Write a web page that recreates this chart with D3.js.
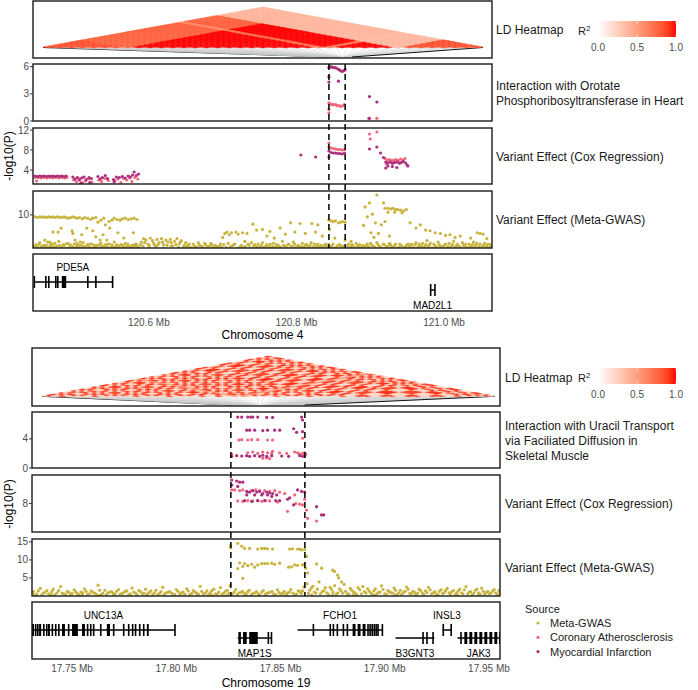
<!DOCTYPE html>
<html>
<head>
<meta charset="utf-8">
<script src="https://cdn.jsdelivr.net/npm/d3@7"></script>
<style>
  body { margin: 0; background: #fff; }
  svg { font-family: "Liberation Sans", Arial, sans-serif; }
</style>
</head>
<body>
<div id="chart"></div>
<script>
// ---------------- data : chromosome 4 ----------------
var ticks4 = [120.6, 120.8, 121.0];
var yTicks4 = { int: [0, 3, 6], cox: [4, 8, 12], gwas: [10] };
var dashed4 = [120.844, 120.866];
var strip4 = ["Interaction with Orotate", "Phosphoribosyltransferase in Heart"];

var int4MI = [[120.844,5.9],[120.846,6.0],[120.848,5.95],[120.850,5.9],[120.852,5.9],[120.854,5.85],[120.857,5.7],[120.859,5.6],[120.861,5.5],[120.863,5.5],[120.865,5.6],[120.866,5.7],[120.844,4.9],[120.844,4.3],[120.857,4.4],[120.899,2.7],[120.909,2.1],[120.899,0.3]];
var int4CA = [[120.844,2.0],[120.846,1.9],[120.848,1.8],[120.850,1.8],[120.853,1.8],[120.855,1.7],[120.858,1.7],[120.860,1.6],[120.863,1.7],[120.865,1.8],[120.844,1.3],[120.844,0.9],[120.898,0.3],[120.909,0.3]];

var cox4MI = [[120.446,2.8],[120.449,2.7],[120.452,2.8],[120.455,2.75],[120.458,2.8],[120.461,2.7],[120.464,2.8],[120.467,2.75],[120.470,2.8],[120.473,2.7],[120.476,2.8],[120.479,2.75],[120.482,2.8],[120.485,2.7],[120.488,2.8],[120.497,2.6],[120.500,2.2],[120.503,2.5],[120.506,2.0],[120.509,2.4],[120.512,2.6],[120.515,2.1],[120.519,2.5],[120.522,2.3],[120.531,2.7],[120.534,2.2],[120.537,2.5],[120.541,2.9],[120.544,2.3],[120.552,2.1],[120.556,2.6],[120.560,2.5],[120.564,2.7],[120.568,2.4],[120.572,2.8],[120.575,2.6],[120.578,3.0],[120.580,3.6],[120.583,2.9],[120.586,3.2],[120.553,1.6],[120.520,1.5],[120.508,1.4],
  [120.806,7.0],[120.826,6.6],[120.844,7.8],[120.847,7.5],[120.850,7.4],[120.853,7.4],[120.856,7.3],[120.859,7.3],[120.862,7.2],[120.865,7.4],[120.844,6.6],
  [120.899,8.2],[120.909,8.6],[120.914,7.4],[120.918,6.5],[120.921,5.6],[120.924,5.4],[120.927,5.6],[120.930,5.3],[120.933,5.5],[120.936,5.6],[120.939,5.4],[120.942,5.5],[120.945,5.7],[120.948,5.4],[120.921,4.4],[120.924,4.8],[120.930,4.7],[120.936,4.5],[120.951,4.8],[120.950,5.0]];
var cox4CA = [[120.446,2.5],[120.448,1.8],[120.450,2.5],[120.454,2.4],[120.458,2.5],[120.462,2.4],[120.466,2.5],[120.470,2.4],[120.474,2.5],[120.478,2.4],[120.482,2.5],[120.486,2.4],[120.489,2.5],[120.498,2.0],[120.502,1.7],[120.505,2.3],[120.510,1.5],[120.514,1.8],[120.518,2.2],[120.523,1.6],[120.532,2.0],[120.536,1.7],[120.540,2.3],[120.545,1.9],[120.554,1.9],[120.558,2.2],[120.562,1.5],[120.566,2.3],[120.570,2.0],[120.574,2.4],[120.577,1.7],[120.581,2.5],[120.585,2.2],
  [120.844,9.4],[120.844,8.6],[120.847,8.4],[120.850,8.3],[120.853,8.2],[120.856,8.1],[120.859,8.1],[120.862,8.0],[120.865,8.1],
  [120.899,11.2],[120.909,11.6],[120.900,10.2],[120.920,6.3],[120.923,6.0],[120.926,6.1],[120.929,5.9],[120.932,6.0],[120.935,6.1],[120.938,5.9],[120.941,6.2],[120.944,6.0],[120.947,6.3],[120.922,5.2],[120.930,5.5],[120.940,5.3]];

var gwas4 = [
  // upper band on the left
  [120.446,9.7],[120.449,9.6],[120.452,9.7],[120.455,9.65],[120.458,9.7],[120.461,9.6],[120.464,9.7],[120.467,9.65],[120.470,9.7],[120.473,9.6],[120.476,9.7],[120.479,9.65],[120.482,9.6],[120.485,9.7],[120.488,9.6],[120.491,9.5],[120.494,9.6],[120.497,9.7],[120.500,9.6],[120.503,9.5],[120.506,9.6],[120.510,9.4],[120.513,9.6],[120.517,9.5],[120.521,9.3],[120.524,9.5],[120.528,9.6],[120.531,8.9],[120.535,9.2],[120.539,9.5],[120.541,8.5],[120.546,9.0],[120.550,9.2],[120.553,9.5],[120.557,9.3],[120.561,9.2],[120.564,9.4],[120.568,9.5],[120.572,9.3],[120.576,9.4],[120.580,9.5],[120.584,9.3],
  [120.470,7.4],[120.477,7.4],[120.481,8.0],[120.496,7.6],[120.497,7.2],[120.509,7.0],[120.516,8.0],[120.524,7.6],[120.528,6.7],[120.538,7.0],[120.543,6.2],[120.547,8.0],[120.558,7.3],[120.566,6.5],[120.579,7.3],[120.459,6.2],[120.466,5.9],[120.500,6.2],[120.534,6.2],[120.507,5.9],
  // bottom band
  [120.444,5.2],[120.447,5.5],[120.450,5.1],[120.452,5.8],[120.455,5.3],[120.458,5.0],[120.461,5.4],[120.463,5.9],[120.466,5.2],[120.469,5.6],[120.472,5.1],[120.475,5.3],[120.478,6.0],[120.481,5.2],[120.484,5.5],[120.487,5.0],[120.490,5.7],[120.493,5.3],[120.496,5.1],[120.499,5.6],[120.502,5.2],[120.505,5.4],[120.508,5.0],[120.511,5.8],[120.514,5.3],[120.517,5.5],[120.520,5.1],[120.523,5.6],[120.526,5.2],[120.529,5.4],[120.532,5.0],[120.535,5.7],[120.538,5.3],[120.541,5.5],[120.544,5.1],[120.547,5.6],[120.550,5.2],[120.553,5.9],[120.556,5.3],[120.559,5.1],[120.562,5.5],[120.565,5.2],[120.568,5.7],[120.571,5.3],[120.574,5.0],[120.577,5.4],[120.580,5.2],[120.583,5.6],[120.586,5.1],
  [120.590,5.9],[120.593,6.4],[120.596,6.2],[120.599,5.6],[120.602,6.5],[120.605,6.1],[120.608,5.4],[120.611,6.3],[120.614,5.8],[120.617,6.4],[120.620,5.5],[120.623,6.2],[120.626,5.9],[120.629,6.3],[120.632,5.3],[120.635,6.0],[120.638,6.4],[120.641,5.6],[120.644,6.1],[120.647,5.2],[120.650,5.8],[120.592,5.3],[120.600,5.1],[120.610,5.2],[120.620,5.0],[120.630,5.3],[120.640,5.1],
  [120.653,5.4],[120.656,5.1],[120.660,5.6],[120.663,5.2],[120.667,5.8],[120.670,5.3],[120.674,5.0],[120.677,5.5],[120.680,5.2],[120.684,5.7],[120.687,5.1],[120.690,5.4],[120.694,5.0],[120.697,5.6],
  [120.700,6.6],[120.703,7.2],[120.706,7.4],[120.709,7.0],[120.712,7.3],[120.715,5.5],[120.718,7.4],[120.721,7.1],[120.724,5.2],[120.727,7.3],[120.730,6.0],[120.733,7.2],[120.736,5.4],[120.739,5.8],[120.705,5.1],[120.713,5.3],[120.722,5.0],[120.731,5.2],
  [120.742,5.3],[120.745,5.0],[120.748,5.6],[120.751,5.2],[120.754,5.8],[120.757,5.1],[120.760,5.5],[120.763,5.3],[120.766,5.0],[120.769,5.7],[120.772,5.2],[120.775,5.4],[120.778,5.1],[120.781,6.0],[120.784,5.3],[120.787,5.0],[120.790,5.6],[120.793,5.2],[120.796,5.9],[120.799,5.1],[120.802,5.4],[120.805,5.0],[120.808,5.7],[120.811,5.3],[120.814,5.5],[120.817,5.1],[120.820,5.8],[120.823,5.2],[120.826,5.0],[120.829,5.6],[120.832,5.3],[120.835,5.1],[120.838,5.4],[120.841,5.2],
  [120.741,8.6],[120.746,7.7],[120.754,7.8],[120.760,6.8],[120.764,7.5],[120.770,6.5],[120.778,8.0],[120.785,7.1],[120.792,8.8],[120.798,7.4],[120.805,8.7],[120.812,7.2],[120.821,8.7],[120.829,8.5],[120.835,6.8],[120.826,7.4],
  [120.844,9.2],[120.847,9.1],[120.850,9.0],[120.853,9.1],[120.857,8.8],[120.860,8.9],[120.863,9.0],[120.866,8.9],[120.845,7.8],[120.852,6.5],[120.844,5.1],[120.848,5.3],[120.852,5.0],[120.856,5.4],[120.860,5.2],[120.864,5.0],[120.866,6.2],
  [120.869,5.3],[120.872,5.0],[120.875,5.5],[120.878,5.1],[120.881,5.7],[120.884,5.2],[120.887,5.0],[120.890,5.4],[120.874,6.0],
  [120.893,11.2],[120.891,8.4],[120.896,9.7],[120.899,11.8],[120.901,7.3],[120.903,10.1],[120.905,6.6],[120.907,8.8],[120.909,13.0],[120.911,7.2],[120.915,8.5],[120.918,11.8],[120.920,11.0],[120.924,11.0],[120.928,10.9],[120.931,11.0],[120.934,10.8],[120.937,10.8],[120.941,10.7],[120.945,10.6],[120.949,10.8],[120.924,10.4],[120.933,10.4],[120.943,10.3],[120.920,9.0],[120.926,6.8],
  [120.893,5.2],[120.896,5.6],[120.899,5.0],[120.902,5.4],[120.906,5.1],[120.909,5.8],[120.912,5.3],[120.916,5.0],[120.919,5.5],[120.922,5.2],[120.926,5.7],[120.929,5.1],[120.933,5.4],[120.936,5.0],[120.940,5.6],[120.943,5.3],[120.947,5.1],[120.950,5.5],
  [120.954,8.8],[120.962,8.0],[120.968,8.5],[120.975,7.7],[120.981,7.6],[120.988,7.3],[120.995,7.2],[121.002,6.9],[121.008,7.0],[121.015,6.6],[121.022,6.8],[121.036,6.5],[121.045,7.3],[121.049,7.2],[121.053,7.1],[121.058,6.4],
  [120.953,5.2],[120.956,5.6],[120.959,5.0],[120.962,5.8],[120.965,5.3],[120.968,5.1],[120.971,5.7],[120.974,5.2],[120.977,6.1],[120.980,5.4],[120.983,5.0],[120.986,5.6],[120.989,5.2],[120.992,5.9],[120.995,5.3],[120.998,5.1],[121.001,5.5],[121.004,5.0],[121.007,5.7],[121.010,5.3],[121.013,6.0],[121.016,5.2],[121.019,5.4],[121.022,5.0],[121.025,5.8],[121.028,5.3],[121.031,5.1],[121.034,5.6],[121.037,5.2],[121.040,5.9],[121.043,5.4],[121.046,5.0],[121.049,5.6],[121.052,5.2],[121.055,5.7],[121.058,5.3],[121.061,5.0],[121.063,5.5],
  // second layer of the dense band
  [120.4455,5.0],[120.4485,5.3],[120.4515,5.6],[120.4545,5.1],[120.4575,5.4],[120.4605,5.2],[120.4635,5.0],[120.4665,5.5],[120.4695,5.2],[120.4725,5.7],[120.4755,5.0],[120.4785,5.4],[120.4815,5.1],[120.4845,5.3],[120.4875,5.6],[120.4905,5.0],[120.4935,5.5],[120.4965,5.2],[120.4995,5.0],[120.5025,5.7],[120.5055,5.1],[120.5085,5.4],[120.5115,5.2],[120.5145,5.0],[120.5175,5.3],[120.5205,5.6],[120.5235,5.0],[120.5265,5.4],[120.5295,5.1],[120.5325,5.5],[120.5355,5.2],[120.5385,5.0],[120.5415,5.3],[120.5445,5.6],[120.5475,5.0],[120.5505,5.4],[120.5535,5.1],[120.5565,5.5],[120.5595,5.3],[120.5625,5.0],[120.5655,5.4],[120.5685,5.1],[120.5715,5.6],[120.5745,5.2],[120.5775,5.0],[120.5805,5.5],[120.5835,5.3],[120.5865,5.0],
  [120.5885,5.5],[120.5945,5.8],[120.6005,5.4],[120.6065,5.7],[120.6125,5.5],[120.6185,5.9],[120.6245,5.4],[120.6305,5.8],[120.6365,5.5],[120.6425,5.9],[120.6485,5.4],
  [120.6515,5.1],[120.6545,5.6],[120.6585,5.0],[120.6615,5.3],[120.6655,5.1],[120.6685,5.5],[120.6725,5.2],[120.6755,5.7],[120.6785,5.0],[120.6825,5.3],[120.6855,5.5],[120.6885,5.0],[120.6925,5.2],[120.6955,5.3],[120.6985,5.1],
  [120.7015,5.5],[120.7075,5.7],[120.7105,5.2],[120.7165,5.6],[120.7195,5.0],[120.7255,5.4],[120.7285,5.1],[120.7345,5.6],[120.7375,5.0],
  [120.7435,5.5],[120.7465,5.2],[120.7495,5.0],[120.7525,5.4],[120.7555,5.1],[120.7585,5.3],[120.7615,5.0],[120.7645,5.6],[120.7675,5.2],[120.7705,5.0],[120.7735,5.5],[120.7765,5.3],[120.7795,5.0],[120.7825,5.4],[120.7855,5.2],[120.7885,5.5],[120.7915,5.0],[120.7945,5.3],[120.7975,5.6],[120.8005,5.1],[120.8035,5.3],[120.8065,5.2],[120.8095,5.0],[120.8125,5.5],[120.8155,5.2],[120.8185,5.4],[120.8215,5.0],[120.8245,5.6],[120.8275,5.3],[120.8305,5.1],[120.8335,5.4],[120.8365,5.0],[120.8395,5.6],
  [120.8435,5.5],[120.8465,5.1],[120.8495,5.6],[120.8545,5.2],[120.8585,5.5],[120.8625,5.3],[120.8655,5.0],[120.8705,5.6],[120.8735,5.2],[120.8765,5.4],[120.8795,5.0],[120.8825,5.3],[120.8855,5.5],[120.8885,5.1],[120.8915,5.0],
  [120.8945,5.4],[120.8975,5.2],[120.9005,5.7],[120.9045,5.3],[120.9075,5.0],[120.9105,5.5],[120.9135,5.2],[120.9175,5.6],[120.9205,5.0],[120.9245,5.3],[120.9275,5.5],[120.9315,5.2],[120.9345,5.6],[120.9385,5.1],[120.9415,5.4],[120.9455,5.0],[120.9485,5.3],[120.9515,5.6],
  [120.9545,5.4],[120.9575,5.1],[120.9605,5.5],[120.9635,5.0],[120.9665,5.6],[120.9695,5.3],[120.9725,5.0],[120.9755,5.5],[120.9785,5.2],[120.9815,5.7],[120.9845,5.0],[120.9875,5.4],[120.9905,5.1],[120.9935,5.5],[120.9965,5.0],[120.9995,5.3],[121.0025,5.6],[121.0055,5.2],[121.0085,5.0],[121.0115,5.5],[121.0145,5.1],[121.0175,5.6],[121.0205,5.3],[121.0235,5.0],[121.0265,5.4],[121.0295,5.6],[121.0325,5.0],[121.0355,5.3],[121.0385,5.5],[121.0415,5.1],[121.0445,5.7],[121.0475,5.2],[121.0505,5.0],[121.0535,5.4],[121.0565,5.1],[121.0595,5.6],[121.0625,5.2],[121.0645,5.0]
];

var genes4 = [
  { name: "PDE5A", start: 120.4435, end: 120.5505, row: 0,
    exons: [[120.4437,120.4450],[120.4593,120.4600],[120.4633,120.4640],[120.4728,120.4735],[120.4755,120.4762],[120.4820,120.4880],[120.5162,120.5169],[120.5271,120.5278],[120.5498,120.5505]] },
  { name: "MAD2L1", start: 120.9808, end: 120.9880, row: 1,
    exons: [[120.9808,120.9822],[120.9866,120.9880]] }
];

var ld4Groups = "AAAAAAAABBBBBBBBBBBBBBBBBCBBBBBBDDDDDDDD".split("");
var ld4R2 = [["A","A",0.85],["A","B",0.78],["A","C",0.6],["A","D",0.4],["B","B",1.0],["B","C",0.68],["B","D",0.38],["C","C",1.0],["C","D",0.35],["D","D",0.85]];
var ld4Pos = [120.8452,120.8458,120.8463,120.8470,120.8476,120.8481,120.8489,120.8494,120.8502,120.8508,120.8515,120.8521,120.8526,120.8534,120.8540,120.8547,120.8553,120.8560,120.8566,120.8571,120.8579,120.8585,120.8592,120.8598,120.8604,120.8611,120.8617,120.8624,120.8630,120.8637,120.8643,120.8650,120.8658,120.8666,120.8675,120.8687,120.8702,120.8718,120.8735,120.8752];

// ---------------- data : chromosome 19 ----------------
var ticks19 = [17.75, 17.80, 17.85, 17.90, 17.95];
var yTicks19 = { int: [0, 4], cox: [8], gwas: [5, 10, 15] };
var dashed19 = [17.8262, 17.8617];
var strip19 = ["Interaction with Uracil Transport", "via Faciliated Diffusion in", "Skeletal Muscle"];

var int19MI = [[17.8295,7.0],[17.8314,7.0],[17.8343,7.0],[17.8357,7.0],[17.8367,7.0],[17.8391,7.0],[17.8434,6.95],[17.8462,6.95],[17.8601,7.0],[17.8606,6.6],
  [17.8338,5.2],[17.8352,5.2],[17.8376,5.2],[17.8415,5.15],[17.8438,5.2],[17.8472,5.2],[17.8496,5.2],[17.8563,5.4],[17.8577,4.9],[17.8606,5.0],
  [17.8266,1.6],[17.8290,1.7],[17.8314,1.65],[17.8338,1.7],[17.8352,1.6],[17.8376,1.7],[17.8400,1.6],[17.8415,1.75],[17.8434,1.6],[17.8458,1.7],[17.8506,1.65],[17.8539,1.6],[17.8592,1.7],[17.8606,1.6],[17.8616,1.65]];
var int19CA = [[17.8300,3.85],[17.8314,3.9],[17.8343,3.85],[17.8362,3.9],[17.8391,3.9],[17.8438,3.85],[17.8462,3.85],[17.8606,4.1],
  [17.8343,2.1],[17.8367,2.2],[17.8391,2.0],[17.8415,2.2],[17.8438,2.1],[17.8458,2.0],[17.8462,2.3],[17.8496,2.1],[17.8530,2.0],[17.8568,2.2],[17.8582,2.1],[17.8592,1.9],[17.8606,2.0],[17.8616,2.1],[17.8621,1.9],
  [17.8415,1.35],[17.8434,1.4],[17.8448,1.3],[17.8266,1.9]];

var cox19MI = [[17.8266,9.65],[17.8266,9.3],[17.8290,9.58],[17.8304,9.5],[17.8319,9.5],[17.8295,9.2],[17.8338,8.85],[17.8352,8.8],[17.8367,8.9],[17.8386,8.8],[17.8400,8.85],[17.8415,8.7],[17.8434,8.8],[17.8448,8.75],[17.8462,8.7],[17.8482,8.6],[17.8338,8.6],[17.8376,8.6],[17.8410,8.6],[17.8438,8.6],[17.8458,8.5],[17.8328,8.2],[17.8362,8.15],[17.8391,8.2],[17.8424,8.2],[17.8496,8.2],[17.8534,8.3],[17.8582,8.95],[17.8601,8.85],[17.8616,8.8],[17.8544,8.4],[17.8563,7.9],[17.8673,7.78],[17.8697,7.2],[17.8707,7.2],[17.8477,8.2]];
var cox19CA = [[17.8266,8.95],[17.8280,8.95],[17.8304,8.9],[17.8319,8.95],[17.8343,8.8],[17.8362,8.9],[17.8381,8.95],[17.8400,8.9],[17.8424,8.9],[17.8448,8.85],[17.8472,8.9],[17.8496,8.8],[17.8520,8.7],[17.8295,8.18],[17.8319,8.15],[17.8343,8.2],[17.8367,8.18],[17.8391,8.2],[17.8410,8.15],[17.8429,8.2],[17.8448,8.18],[17.8486,8.1],[17.8573,8.0],[17.8592,7.95],[17.8606,7.9],[17.8534,7.45],[17.8625,7.54],[17.8630,6.96],[17.8673,6.77],[17.8568,8.6],[17.8616,8.3]];

var gwas19 = [
  [17.8261,14.0],[17.8261,13.4],[17.8295,14.6],[17.8314,13.8],[17.8328,13.2],[17.8352,13.2],[17.8391,13.0],[17.8410,13.2],[17.8424,13.2],[17.8438,13.1],[17.8462,13.0],[17.8544,13.0],[17.8558,13.1],[17.8582,13.0],[17.8592,13.0],[17.8601,12.8],[17.8616,12.9],[17.8625,11.0],
  [17.8304,9.2],[17.8328,9.0],[17.8343,8.4],[17.8362,8.8],[17.8376,8.0],[17.8391,8.6],[17.8410,9.0],[17.8424,9.0],[17.8438,9.0],[17.8458,9.1],[17.8472,8.8],[17.8496,9.1],[17.8539,8.0],[17.8553,8.1],[17.8568,8.6],[17.8582,8.5],[17.8606,8.6],[17.8616,8.8],[17.8621,7.7],[17.8319,8.2],[17.8295,7.6],[17.8319,4.9],[17.8630,6.4],[17.8673,8.9],[17.8697,7.7],[17.8750,7.2],[17.8774,5.8],[17.8779,5.0],[17.8793,3.9],[17.8759,6.8],
  [17.7315,1.2],[17.7330,0.5],[17.7348,2.1],[17.7362,0.8],[17.7380,1.5],[17.7395,0.4],[17.7410,1.9],[17.7428,0.9],[17.7445,2.6],[17.7460,0.6],[17.7478,1.3],[17.7492,0.3],[17.7510,1.7],[17.7525,0.7],[17.7543,1.1],[17.7560,2.0],[17.7575,0.5],[17.7592,1.4],[17.7608,0.8],[17.7625,3.0],[17.7640,0.4],[17.7658,1.6],[17.7673,0.9],[17.7690,1.2],[17.7706,0.5],[17.7723,1.8],[17.7740,0.7],[17.7755,1.3],[17.7772,0.4],[17.7788,2.2],[17.7805,0.8],[17.7820,1.5],[17.7838,0.6],[17.7853,1.9],[17.7870,1.0],[17.7887,0.4],[17.7903,1.6],[17.7920,0.7],[17.7935,2.4],[17.7952,0.9],[17.7968,1.3],[17.7985,0.5],[17.8000,1.8],[17.8017,0.6],[17.8033,1.1],[17.8050,2.0],[17.8065,0.4],[17.8082,1.5],[17.8098,0.8],[17.8115,2.7],[17.8130,0.6],[17.8147,1.4],[17.8163,0.9],[17.8180,1.9],[17.8196,0.5],[17.8212,2.3],[17.8228,0.8],[17.8245,1.6],[17.8258,2.9],
  [17.8270,0.6],[17.8285,1.8],[17.8300,0.9],[17.8318,1.3],[17.8335,0.5],[17.8350,1.6],[17.8368,0.7],[17.8385,1.2],[17.8400,0.4],[17.8418,1.5],[17.8435,0.8],[17.8450,1.1],[17.8468,0.5],[17.8485,1.7],[17.8500,0.6],[17.8518,1.3],[17.8535,0.9],[17.8550,1.8],[17.8568,0.4],[17.8585,1.4],[17.8600,0.7],[17.8612,2.5],
  [17.8628,3.4],[17.8640,1.6],[17.8655,2.7],[17.8670,0.8],[17.8685,3.9],[17.8700,1.2],[17.8715,2.3],[17.8730,0.5],[17.8745,1.8],[17.8760,2.9],[17.8775,0.9],[17.8790,1.5],[17.8805,3.2],[17.8820,0.6],[17.8835,2.1],[17.8850,1.1],[17.8865,0.4],[17.8880,1.7],[17.8895,2.6],[17.8910,0.8],[17.8925,1.4],[17.8940,0.5],[17.8955,2.0],[17.8970,1.0],[17.8985,2.8],[17.9000,0.6],[17.9015,1.5],[17.9030,0.9],[17.9045,2.2],[17.9060,0.4],[17.9075,1.6],[17.9090,1.0],[17.9105,2.5],[17.9120,0.7],[17.9135,1.3],[17.9150,0.5],[17.9165,1.9],[17.9180,0.8],[17.9195,1.4],[17.9210,2.4],[17.9225,0.6],[17.9240,1.2],[17.9255,0.4],[17.9270,1.7],[17.9285,0.9],[17.9300,2.1],[17.9315,0.5],[17.9330,1.5],[17.9345,0.8],[17.9360,1.9],[17.9375,0.6],[17.9390,2.6],[17.9405,1.1],[17.9420,0.4],[17.9435,1.6],[17.9450,0.9],[17.9465,2.2],[17.9480,0.5],[17.9495,1.3],[17.9510,0.8],[17.9525,1.8],[17.9540,0.4],[17.9550,1.2],
  [17.7322,0.2],[17.7400,0.3],[17.7470,0.2],[17.7550,0.3],[17.7630,0.2],[17.7700,0.3],[17.7780,0.2],[17.7860,0.3],[17.7940,0.2],[17.8020,0.3],[17.8100,0.2],[17.8170,0.3],[17.8240,0.2],[17.8330,0.2],[17.8430,0.3],[17.8530,0.2],[17.8650,0.3],[17.8750,0.2],[17.8850,0.3],[17.8950,0.2],[17.9050,0.3],[17.9150,0.2],[17.9250,0.3],[17.9350,0.2],[17.9450,0.3],[17.9545,0.2],
  // second layer of the dense band
  [17.7312,0.7],[17.7338,1.4],[17.7355,0.3],[17.7370,1.0],[17.7388,0.6],[17.7403,1.2],[17.7418,0.4],[17.7436,1.5],[17.7452,0.8],[17.7468,0.5],[17.7485,1.0],[17.7500,0.7],[17.7517,1.2],[17.7533,0.4],[17.7550,0.9],[17.7567,1.3],[17.7583,0.6],[17.7600,1.0],[17.7616,0.5],[17.7632,1.6],[17.7648,0.8],[17.7665,0.4],[17.7681,1.1],[17.7698,0.7],[17.7714,1.3],[17.7731,0.5],[17.7747,0.9],[17.7763,1.4],[17.7780,0.6],[17.7796,1.1],[17.7812,0.4],[17.7829,1.2],[17.7845,0.8],[17.7861,0.5],[17.7878,1.4],[17.7895,0.9],[17.7911,0.4],[17.7927,1.2],[17.7944,0.6],[17.7960,1.0],[17.7977,0.8],[17.7993,0.4],[17.8008,1.3],[17.8025,0.9],[17.8041,0.5],[17.8057,1.4],[17.8074,0.7],[17.8090,1.1],[17.8106,0.5],[17.8122,1.3],[17.8139,0.8],[17.8155,0.4],[17.8171,1.5],[17.8188,0.6],[17.8204,1.1],[17.8220,0.5],[17.8236,1.3],[17.8252,0.7],
  [17.8278,1.1],[17.8293,0.4],[17.8310,1.0],[17.8326,0.7],[17.8343,1.2],[17.8360,0.4],[17.8377,0.9],[17.8393,0.6],[17.8410,1.1],[17.8427,0.5],[17.8443,0.9],[17.8460,1.2],[17.8477,0.4],[17.8493,1.0],[17.8510,0.7],[17.8527,0.5],[17.8543,1.1],[17.8560,0.8],[17.8577,0.5],[17.8593,1.2],[17.8606,1.4],
  [17.8634,0.7],[17.8648,2.2],[17.8662,1.1],[17.8677,1.9],[17.8692,0.6],[17.8708,1.5],[17.8722,0.9],[17.8738,2.4],[17.8752,1.0],[17.8768,0.5],[17.8783,2.0],[17.8798,0.8],[17.8812,1.3],[17.8828,0.5],[17.8842,1.6],[17.8858,0.9],[17.8872,2.3],[17.8888,0.6],[17.8903,1.2],[17.8918,2.0],[17.8932,0.9],[17.8948,1.4],[17.8962,0.6],[17.8978,1.1],[17.8992,1.8],[17.9008,0.5],[17.9022,1.2],[17.9038,0.8],[17.9052,1.6],[17.9068,0.9],[17.9082,0.5],[17.9098,1.3],[17.9112,1.9],[17.9128,0.6],[17.9142,1.1],[17.9158,0.8],[17.9172,1.5],[17.9188,0.4],[17.9202,1.0],[17.9218,1.7],[17.9232,0.9],[17.9248,0.5],[17.9262,1.3],[17.9278,0.7],[17.9292,1.5],[17.9308,0.9],[17.9322,1.2],[17.9338,0.4],[17.9352,1.4],[17.9368,0.9],[17.9382,1.7],[17.9398,0.6],[17.9412,1.2],[17.9428,0.8],[17.9442,1.9],[17.9458,0.5],[17.9472,1.3],[17.9488,1.0],[17.9502,0.6],[17.9518,1.4],[17.9532,0.9],[17.9548,1.6]
];

var genes19 = [
  { name: "UNC13A", start: 17.7200, end: 17.7993, row: 0,
    exons: [[17.7308,17.7318],[17.7322,17.7326],[17.7332,17.7336],[17.7342,17.7352],[17.7361,17.7368],[17.7375,17.7379],[17.7385,17.7394],[17.7402,17.7406],[17.7418,17.7422],[17.7433,17.7437],[17.7452,17.7466],[17.7480,17.7484],[17.7500,17.7528],[17.7548,17.7562],[17.7571,17.7575],[17.7586,17.7590],[17.7600,17.7604],[17.7634,17.7638],[17.7667,17.7682],[17.7696,17.7700],[17.7744,17.7748],[17.7768,17.7772],[17.7787,17.7791],[17.7801,17.7805],[17.7821,17.7825],[17.7840,17.7844],[17.7859,17.7868],[17.7990,17.7993]] },
  { name: "MAP1S", start: 17.8295, end: 17.8458, row: 1,
    exons: [[17.8298,17.8310],[17.8320,17.8338],[17.8350,17.8391],[17.8438,17.8442],[17.8453,17.8458]] },
  { name: "FCHO1", start: 17.8582, end: 17.8989, row: 0,
    exons: [[17.8654,17.8658],[17.8735,17.8739],[17.8750,17.8754],[17.8769,17.8773],[17.8798,17.8802],[17.8817,17.8821],[17.8846,17.8860],[17.8870,17.8884],[17.8894,17.8908],[17.8916,17.8920],[17.8926,17.8930],[17.8936,17.8940],[17.8946,17.8950],[17.8955,17.8959],[17.8964,17.8968],[17.8985,17.8989]] },
  { name: "B3GNT3", start: 17.9052, end: 17.9238, row: 1,
    exons: [[17.9180,17.9184],[17.9199,17.9203],[17.9228,17.9232]] },
  { name: "INSL3", start: 17.9277, end: 17.9320, row: 0,
    exons: [[17.9277,17.9282],[17.9315,17.9320]] },
  { name: "JAK3", start: 17.9349, end: 17.9700, row: 1,
    exons: [[17.9362,17.9366],[17.9382,17.9396],[17.9406,17.9420],[17.9430,17.9444],[17.9454,17.9468],[17.9478,17.9492],[17.9502,17.9516],[17.9526,17.9540],[17.9548,17.9560]] }
];

var ld19Groups = ["ABAABABBAB","ABBABAABAB","BAABCABABB","ABAABABBAA","ABBBAAABBB","AABABA"].join("").split("");
var ld19R2 = [["A","A",0.95],["A","B",0.22],["A","C",0.6],["B","B",0.9],["B","C",0.5],["C","C",1.0]];
var ld19Pos = [17.8266,17.8271,17.8279,17.8283,17.8290,17.8295,17.8301,17.8304,17.8310,17.8314,17.8320,17.8327,17.8333,17.8338,17.8343,17.8349,17.8352,17.8357,17.8362,17.8367,17.8371,17.8376,17.8382,17.8386,17.8391,17.8396,17.8400,17.8406,17.8410,17.8415,17.8421,17.8424,17.8430,17.8434,17.8438,17.8444,17.8448,17.8453,17.8458,17.8462,17.8468,17.8472,17.8479,17.8486,17.8496,17.8506,17.8520,17.8534,17.8544,17.8558,17.8568,17.8582,17.8592,17.8601,17.8609,17.8616];

var sources = ["Meta-GWAS", "Coronary Atherosclerosis", "Myocardial Infarction"];
var sourceColors = ["#c8b43e", "#f2677d", "#ad2e7c"];

// ---------------- drawing ----------------
var W = 698, H = 690;
var svg = d3.select("#chart").append("svg").attr("width", W).attr("height", H);

var color = d3.scaleOrdinal().domain(sources).range(sourceColors);
var ldColor = d3.scaleLinear().domain([0, 1]).range(["#ffffff", "#ff0000"]).interpolate(d3.interpolateLab);

var layout4 = {
  id: "c4", left: 33, right: 492, xDomain: [120.443, 121.065], tickFormat: ".1f",
  ld: [1, 58], int: [64, 121], cox: [128, 184], gwas: [191, 248], gene: [254, 311],
  yDom: { int: [0, 6.3], cox: [1.2, 12.4], gwas: [5, 13.6] },
  tickY: 326, titleY: 339, stripX: 496, ldApex: 7, ldBase: 47, ldX0: 43, ldX1: 483, title: "Chromosome 4"
};
var layout19 = {
  id: "c19", left: 32, right: 500, xDomain: [17.7308, 17.9553], tickFormat: ".2f",
  ld: [348, 406], int: [412, 468], cox: [475, 532], gwas: [539, 596], gene: [602, 659],
  yDom: { int: [0, 7.7], cox: [6, 10], gwas: [0, 15.8] },
  tickY: 672, titleY: 687, stripX: 505, ldApex: 356, ldBase: 396, ldX0: 42, ldX1: 495, title: "Chromosome 19"
};

function lookupR2(table) {
  var m = {};
  table.forEach(function(t) { m[t[0] + t[1]] = t[2]; m[t[1] + t[0]] = t[2]; });
  return m;
}

function panelClip(L, name, band) {
  var id = L.id + "-" + name;
  svg.append("clipPath").attr("id", id).append("rect")
    .attr("x", L.left).attr("y", band[0]).attr("width", L.right - L.left).attr("height", band[1] - band[0]);
  return svg.append("g").attr("clip-path", "url(#" + id + ")");
}

function border(L, band) {
  svg.append("rect").attr("x", L.left).attr("y", band[0])
    .attr("width", L.right - L.left).attr("height", band[1] - band[0])
    .attr("fill", "none").attr("stroke", "#1a1a1a").attr("stroke-width", 1.4);
}

function stripText(L, band, lines) {
  var mid = (band[0] + band[1]) / 2;
  var t = svg.append("text").attr("font-size", 12).attr("fill", "#1a1a1a");
  lines.forEach(function(s, i) {
    t.append("tspan").attr("x", L.stripX)
      .attr("y", mid + 4.5 + (i - (lines.length - 1) / 2) * 15).text(s);
  });
}

function yAxis(L, y, ticks) {
  ticks.forEach(function(v) {
    svg.append("line").attr("x1", L.left - 3).attr("x2", L.left).attr("y1", y(v)).attr("y2", y(v))
      .attr("stroke", "#333").attr("stroke-width", 1);
    svg.append("text").attr("x", L.left - 4).attr("y", y(v) + 3.5).attr("text-anchor", "end")
      .attr("font-size", 10).attr("fill", "#4d4d4d").text(v);
  });
}

function dots(g, data, x, y, c) {
  g.selectAll(null).data(data).join("circle")
    .attr("cx", function(d) { return x(d[0]); })
    .attr("cy", function(d) { return y(d[1]); })
    .attr("r", 1.6).attr("fill", c);
}

function drawLD(L, x, groups, r2table, pos) {
  var g = panelClip(L, "ld", L.ld);
  var r2 = lookupR2(r2table);
  var N = groups.length;
  var p = d3.scaleLinear().domain([0.5, N - 0.5]).range([L.ldX0, L.ldX1]);
  var q = d3.scaleLinear().domain([0.5, N / 2]).range([L.ldBase, L.ldApex]);

  // fan of lines linking SNP order to genomic position
  var fan = d3.range(Math.min(N, pos.length));
  g.selectAll(null).data(fan).join("line")
    .attr("x1", function(i) { return p(i + 0.5); }).attr("y1", q(0.25))
    .attr("x2", function(i) { return x(pos[i]); }).attr("y2", L.ld[1] - 1)
    .attr("stroke", function(i) { return (i === 0 || i === fan.length - 1) ? "#111" : "#c8c8c8"; })
    .attr("stroke-width", function(i) { return (i === 0 || i === fan.length - 1) ? 1 : 0.5; });

  var cells = [];
  for (var i = 0; i < N; i++) {
    for (var j = i + 1; j < N; j++) {
      cells.push({ i: i, j: j, r: r2[groups[i] + groups[j]] });
    }
  }
  g.selectAll(null).data(cells).join("polygon")
    .attr("points", function(d) {
      var c = (d.i + d.j + 1) / 2, h = (d.j - d.i) / 2;
      return [[p(c - 0.5), q(h)], [p(c), q(h + 0.5)], [p(c + 0.5), q(h)], [p(c), q(h - 0.5)]]
        .map(function(v) { return v.join(","); }).join(" ");
    })
    .attr("fill", function(d) { return ldColor(d.r); })
    .attr("stroke", function(d) { return ldColor(d.r); })
    .attr("stroke-width", 0.4);
  border(L, L.ld);

  // legend for R2
  var top = L.ld[0];
  stripText(L, L.ld, ["LD Heatmap"]);
  var lg = svg.append("text").attr("x", 578).attr("y", top + 34).attr("font-size", 11).attr("fill", "#1a1a1a");
  lg.append("tspan").text("R");
  lg.append("tspan").attr("font-size", 8).attr("dy", -4).text("2");
  var gid = L.id + "-grad";
  var grad = svg.append("linearGradient").attr("id", gid);
  d3.range(0, 1.01, 0.1).forEach(function(t) {
    grad.append("stop").attr("offset", t).attr("stop-color", ldColor(t));
  });
  var lx = d3.scaleLinear().domain([0, 1]).range([598, 676]);
  svg.append("rect").attr("x", lx(0)).attr("y", top + 20).attr("width", lx(1) - lx(0)).attr("height", 16)
    .attr("fill", "url(#" + gid + ")");
  [0, 0.5, 1].forEach(function(v) {
    svg.append("line").attr("x1", lx(v)).attr("x2", lx(v)).attr("y1", top + 20).attr("y2", top + 23).attr("stroke", "#fff").attr("stroke-width", 0.6);
    svg.append("line").attr("x1", lx(v)).attr("x2", lx(v)).attr("y1", top + 33).attr("y2", top + 36).attr("stroke", "#fff").attr("stroke-width", 0.6);
    svg.append("text").attr("x", lx(v)).attr("y", top + 50).attr("text-anchor", "middle")
      .attr("font-size", 10).attr("fill", "#4d4d4d").text(d3.format(".1f")(v));
  });
}

function drawGenes(L, x, genes) {
  var g = panelClip(L, "gene", L.gene);
  genes.forEach(function(gn) {
    var yc = L.gene[0] + (gn.row ? 36 : 28);
    g.append("line").attr("x1", x(gn.start)).attr("x2", x(gn.end)).attr("y1", yc).attr("y2", yc)
      .attr("stroke", "#000").attr("stroke-width", 1.5);
    g.selectAll(null).data(gn.exons).join("rect")
      .attr("x", function(e) { return x(e[0]); })
      .attr("width", function(e) { return Math.max(x(e[1]) - x(e[0]), 1.6); })
      .attr("y", yc - 6).attr("height", 12).attr("fill", "#000");
    var a = Math.max(x(gn.start), L.left), b = Math.min(x(gn.end), L.right);
    g.append("text").attr("x", (a + b) / 2).attr("y", gn.row ? yc + 19 : yc - 11)
      .attr("text-anchor", "middle").attr("font-size", 10).attr("fill", "#000").text(gn.name);
  });
  border(L, L.gene);
}

function drawRegion(L, d) {
  var x = d3.scaleLinear().domain(L.xDomain).range([L.left, L.right]);
  var y = {};
  ["int", "cox", "gwas"].forEach(function(k) {
    y[k] = d3.scaleLinear().domain(L.yDom[k]).range([L[k][1], L[k][0]]);
  });

  drawLD(L, x, d.ldGroups, d.ldR2, d.ldPos);

  var gi = panelClip(L, "int", L.int);
  dots(gi, d.intCA, x, y.int, color("Coronary Atherosclerosis"));
  dots(gi, d.intMI, x, y.int, color("Myocardial Infarction"));
  border(L, L.int);
  yAxis(L, y.int, d.yTicks.int);
  stripText(L, L.int, d.strip);

  var gc = panelClip(L, "cox", L.cox);
  dots(gc, d.coxCA, x, y.cox, color("Coronary Atherosclerosis"));
  dots(gc, d.coxMI, x, y.cox, color("Myocardial Infarction"));
  border(L, L.cox);
  yAxis(L, y.cox, d.yTicks.cox);
  stripText(L, L.cox, ["Variant Effect (Cox Regression)"]);

  var gg = panelClip(L, "gwas", L.gwas);
  dots(gg, d.gwas, x, y.gwas, color("Meta-GWAS"));
  border(L, L.gwas);
  yAxis(L, y.gwas, d.yTicks.gwas);
  stripText(L, L.gwas, ["Variant Effect (Meta-GWAS)"]);

  // dashed boundaries of the interaction window
  d.dashed.forEach(function(v) {
    svg.append("line").attr("x1", x(v)).attr("x2", x(v)).attr("y1", L.int[0]).attr("y2", L.gwas[1])
      .attr("stroke", "#000").attr("stroke-width", 1.5).attr("stroke-dasharray", "6,4");
  });

  drawGenes(L, x, d.genes);

  var fmt = d3.format(L.tickFormat);
  d.ticks.forEach(function(v) {
    svg.append("text").attr("x", x(v)).attr("y", L.tickY).attr("text-anchor", "middle")
      .attr("font-size", 10).attr("fill", "#4d4d4d").text(fmt(v) + " Mb");
  });
  svg.append("text").attr("x", (L.left + L.right) / 2).attr("y", L.titleY).attr("text-anchor", "middle")
    .attr("font-size", 12).attr("fill", "#000").text(L.title);

  svg.append("text").attr("transform", "translate(13," + ((L.int[0] + L.gwas[1]) / 2) + ") rotate(-90)")
    .attr("text-anchor", "middle").attr("font-size", 12).attr("fill", "#000").text("-log10(P)");
}

drawRegion(layout4, {
  ldGroups: ld4Groups, ldR2: ld4R2, ldPos: ld4Pos,
  intCA: int4CA, intMI: int4MI, coxCA: cox4CA, coxMI: cox4MI, gwas: gwas4,
  genes: genes4, ticks: ticks4, yTicks: yTicks4, dashed: dashed4, strip: strip4
});
drawRegion(layout19, {
  ldGroups: ld19Groups, ldR2: ld19R2, ldPos: ld19Pos,
  intCA: int19CA, intMI: int19MI, coxCA: cox19CA, coxMI: cox19MI, gwas: gwas19,
  genes: genes19, ticks: ticks19, yTicks: yTicks19, dashed: dashed19, strip: strip19
});

// source legend
var lgd = svg.append("g");
lgd.append("text").attr("x", 525).attr("y", 613).attr("font-size", 11).attr("fill", "#1a1a1a").text("Source");
sources.forEach(function(s, i) {
  lgd.append("circle").attr("cx", 538).attr("cy", 623 + i * 14.3).attr("r", 1.6).attr("fill", color(s));
  lgd.append("text").attr("x", 550).attr("y", 627 + i * 14.3).attr("font-size", 11).attr("fill", "#1a1a1a").text(s);
});
</script>
</body>
</html>
